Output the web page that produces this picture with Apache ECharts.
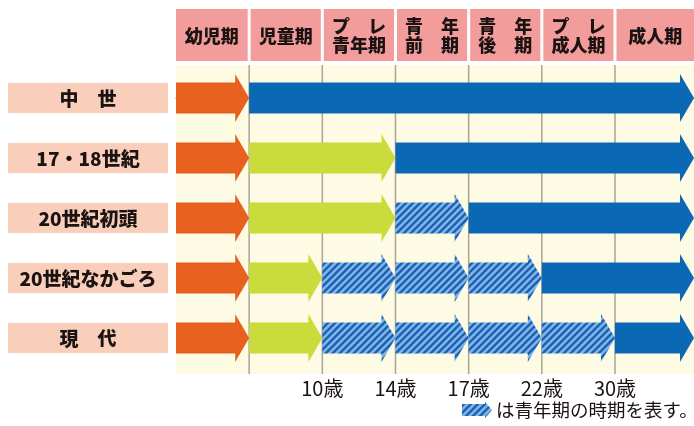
<!DOCTYPE html>
<html><head><meta charset="utf-8">
<script src="https://cdn.jsdelivr.net/npm/echarts@6/dist/echarts.min.js"></script>
<style>html,body{margin:0;padding:0;background:#fff}#c{width:694px;height:426px}</style>
</head><body><div id="c"></div>
<script>
// ---- data ----
const stages = ['幼児期', '児童期', 'プ　レ\n青年期', '青　年\n前　期', '青　年\n後　期', 'プ　レ\n成人期', '成人期'];
const eras = ['中　世', '17・18世紀', '20世紀初頭', '20世紀なかごろ', '現　代'];
const ageTickLabels = ['', '', '10歳', '14歳', '17歳', '22歳', '30歳', ''];
const boundaries = [1, 2, 3, 4, 5, 6];
const END = 7.08; // open-ended to the right edge
const kinds = ['infant', 'child', 'youth', 'adult'];
// [start stage, end stage, kind]
const segMedieval = [[0, 1, 'infant'], [1, END, 'adult']];
const seg1718 = [[0, 1, 'infant'], [1, 3, 'child'], [3, END, 'adult']];
const segEarly20 = [[0, 1, 'infant'], [1, 3, 'child'], [3, 4, 'youth'], [4, END, 'adult']];
const segMid20 = [[0, 1, 'infant'], [1, 2, 'child'], [2, 3, 'youth'], [3, 4, 'youth'], [4, 5, 'youth'], [5, END, 'adult']];
const segModern = [[0, 1, 'infant'], [1, 2, 'child'], [2, 3, 'youth'], [3, 4, 'youth'], [4, 5, 'youth'], [5, 6, 'youth'], [6, END, 'adult']];
const rows = [segMedieval, seg1718, segEarly20, segMid20, segModern];
const legendText = 'は青年期の時期を表す。';

// ---- styles ----
function makeHatch() {
  const s = 7, c = document.createElement('canvas');
  c.width = s; c.height = s;
  const g = c.getContext('2d');
  g.fillStyle = '#80b6ea'; g.fillRect(0, 0, s, s);
  g.strokeStyle = '#1c62b2'; g.lineWidth = 2.4; g.lineCap = 'square';
  g.beginPath();
  g.moveTo(0, s); g.lineTo(s, 0);
  g.moveTo(-1, 1); g.lineTo(1, -1);
  g.moveTo(s - 1, s + 1); g.lineTo(s + 1, s - 1);
  g.stroke();
  return c;
}
const hatch = { type: 'pattern', image: makeHatch(), repeat: 'repeat' };
const fills = { infant: '#e8601e', child: '#c9dc3b', youth: hatch, adult: '#0a68b4' };
const FONT = '"Noto Sans CJK JP", "Noto Sans", sans-serif';
const TXT = '#1a1311';

const arrowData = [];
rows.forEach((segs, r) => segs.forEach(s => arrowData.push([s[0], s[1], r, kinds.indexOf(s[2])])));

function arrowPoints(x0, x1, y, bh, hh, hl) {
  return [[x0, y - bh], [x1 - hl, y - bh], [x1 - hl, y - hh], [x1, y], [x1 - hl, y + hh], [x1 - hl, y + bh], [x0, y + bh]];
}

const chart = echarts.init(document.getElementById('c'), null, { renderer: 'canvas' });
chart.setOption({
  animation: false,
  backgroundColor: '#ffffff',
  grid: { left: 176, right: 0, top: 65, bottom: 52, show: true, backgroundColor: '#fefbe4', borderWidth: 0 },
  xAxis: {
    type: 'value', min: 0, max: END, interval: 1,
    splitLine: { show: false },
    axisTick: { show: false },
    axisLine: { show: true, lineStyle: { color: '#9f9a90', width: 1.5 } },
    axisLabel: {
      margin: 4, color: TXT, fontSize: 20, fontFamily: FONT,
      formatter: v => ageTickLabels[Math.round(v)] || '',
      showMaxLabel: false
    }
  },
  yAxis: { type: 'value', inverse: true, min: -0.55, max: 4.6, show: false },
  series: [
    { // vertical stage boundaries
      type: 'custom', clip: false,
      data: boundaries.map(b => [b]),
      encode: { x: 0 },
      renderItem: (p, api) => {
        const a = api.coord([api.value(0), -0.55]);
        const b = api.coord([api.value(0), 4.6]);
        return { type: 'line', shape: { x1: a[0], y1: a[1], x2: b[0], y2: b[1] }, style: { stroke: '#aaa498', lineWidth: 1.5 } };
      }
    },
    { // header cells
      type: 'custom', clip: false,
      data: stages.map((s, i) => [i, i === stages.length - 1 ? END : i + 1]),
      encode: { x: [0, 1] },
      renderItem: (p, api) => {
        const a = api.coord([api.value(0), 0]);
        const b = api.coord([api.value(1), 0]);
        const top = p.coordSys.y - 56, h = 52;
        const x0 = a[0] + (api.value(0) === 0 ? 0 : 1.5), x1 = b[0] - (api.value(1) >= END ? 0 : 1.5);
        return {
          type: 'group', children: [
            { type: 'rect', shape: { x: x0, y: top, width: x1 - x0, height: h }, style: { fill: '#f29c9b' } },
            { type: 'text', style: { text: stages[p.dataIndex], x: (x0 + x1) / 2, y: top + h / 2 + 1, align: 'center', verticalAlign: 'middle', fontSize: 18, fontWeight: 900, fontFamily: FONT, fill: TXT, lineHeight: 19 } }
          ]
        };
      }
    },
    { // era labels
      type: 'custom', clip: false,
      data: eras.map((e, i) => [0, i]),
      encode: { x: 0, y: 1 },
      renderItem: (p, api) => {
        const c = api.coord([0, api.value(1)]);
        const y = c[1];
        return {
          type: 'group', children: [
            { type: 'rect', shape: { x: 8, y: y - 15, width: 160, height: 30 }, style: { fill: '#f9cebb' } },
            { type: 'text', style: { text: eras[p.dataIndex], x: 88, y: y + 1, align: 'center', verticalAlign: 'middle', fontSize: 19, fontWeight: 900, fontFamily: FONT, fill: TXT } }
          ]
        };
      }
    },
    { // arrows
      type: 'custom', clip: false,
      data: arrowData,
      encode: { x: [0, 1], y: 2 },
      renderItem: (p, api) => {
        const a = api.coord([api.value(0), api.value(2)]);
        const b = api.coord([api.value(1), api.value(2)]);
        const k = kinds[api.value(3)];
        return { type: 'polygon', shape: { points: arrowPoints(a[0], b[0], a[1], 15.5, 24, 14) }, style: { fill: fills[k] } };
      }
    }
  ],
  graphic: [
    { type: 'polygon', shape: { points: arrowPoints(462, 492, 410, 6, 8, 7) }, style: { fill: hatch } },
    { type: 'text', style: { text: legendText, x: 496, y: 410, verticalAlign: 'middle', fontSize: 18.5, fontFamily: FONT, fill: TXT } }
  ]
});
</script>
</body></html>
